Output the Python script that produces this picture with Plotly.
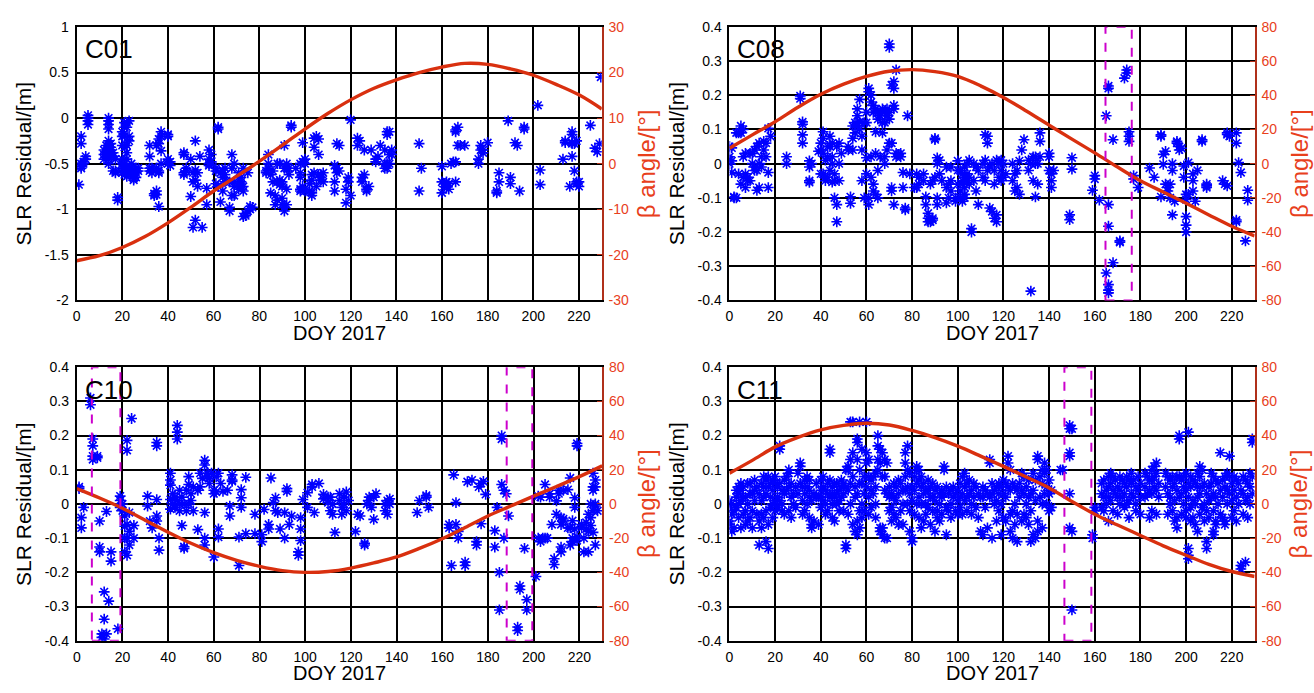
import plotly.graph_objects as go

# ---------------- data ----------------
beta_day = [0, 10, 20, 30, 40, 50, 60, 70, 80, 90, 100, 110, 120, 130, 140, 150, 160, 170, 180, 190, 200, 210, 220, 230]

c01_beta = [-21.3, -20.2, -18.4, -16.0, -13.0, -9.6, -6.0, -2.8, 0.5, 4.0, 7.6, 11.0, 14.0, 16.5, 18.4, 20.0, 21.2, 22.0, 21.8, 20.8, 19.4, 17.4, 15.1, 12.0]
c08_beta = [9.0, 16.8, 24.5, 33.0, 40.6, 46.5, 51.0, 54.0, 55.0, 53.8, 51.0, 45.5, 38.7, 30.8, 22.5, 14.3, 6.3, -2.0, -10.0, -16.6, -23.2, -30.0, -36.6, -42.3]
c10_beta = [9.0, 3.5, -2.5, -9.5, -16.5, -23.0, -28.5, -33.0, -36.5, -39.0, -40.0, -39.5, -37.5, -34.5, -31.0, -26.0, -20.3, -13.8, -7.0, -1.2, 4.6, 10.2, 16.0, 22.3]
c11_beta = [18.0, 25.5, 33.4, 39.0, 43.4, 46.0, 47.2, 46.2, 43.0, 38.8, 33.8, 28.0, 22.0, 15.8, 9.4, 1.5, -6.0, -12.3, -18.4, -24.5, -30.0, -35.3, -39.5, -42.4]

c01_day = [1, 2, 3, 4, 5, 12, 13, 14, 15, 16, 17, 18, 20, 21, 22, 23, 24, 25, 26, 27,
           32, 33, 34, 35, 36, 37, 40, 41, 47, 48, 50, 51, 52, 53, 54, 55, 57, 58, 59, 61,
           62, 63, 64, 65, 67, 68, 69, 71, 72, 73, 74, 75, 76, 77, 83, 84, 85, 86, 87, 88,
           89, 90, 91, 92, 93, 94, 96, 98, 99, 100, 102, 103, 104, 105, 106, 107, 108, 113, 114, 115,
           118, 119, 120, 123, 124, 125, 126, 127, 128, 129, 131, 132, 133, 135, 136, 137, 138, 150, 151, 160,
           161, 162, 163, 164, 165, 166, 167, 168, 170, 176, 177, 178, 180, 184, 185, 189, 190, 192, 193, 194,
           196, 202, 203, 213, 214, 216, 217, 218, 219, 220, 225, 227, 228, 229, 229.6]
c01_res = [[-0.73], [-0.2, -0.28, -0.5, -0.53, -0.55], [-0.5, -0.48], [-0.45, -0.42], [0.03, 0.0, -0.03, -0.07],
           [-0.35, -0.4, -0.45], [-0.3, -0.38, -0.42], [0.0, -0.03, -0.07, -0.12, -0.25, -0.3, -0.35, -0.45, -0.5], [-0.28, -0.32, -0.38], [-0.42, -0.38, -0.58],
           [-0.58, -0.6, -0.45], [-0.87, -0.9], [-0.15, -0.2, -0.3, -0.45, -0.5, -0.55, -0.6], [-0.05, -0.1, -0.2, -0.32, -0.5, -0.55, -0.62], [-0.05, -0.1, -0.3, -0.38, -0.45, -0.58, -0.64],
           [-0.03, -0.2, -0.25, -0.55, -0.6], [-0.5, -0.55, -0.58], [-0.62, -0.66, -0.68], [-0.55, -0.6, -0.65], [-0.55, -0.58],
           [-0.3, -0.42, -0.55, -0.58], [-0.55, -0.6], [-0.85, -0.83], [-0.84, -0.8, -0.55, -0.3], [-0.23, -0.28, -0.58, -0.6, -0.97],
           [-0.15, -0.2, -0.36, -0.5], [-0.18, -0.2, -0.45, -0.5], [-0.48, -0.52], [-0.38, -0.4, -0.6, -0.62], [-0.55, -0.58],
           [-0.86, -0.45], [-1.2, -0.7, -0.6], [-1.12, -0.25, -0.57, -0.68], [-0.75, -0.6], [-0.42],
           [-1.2], [-0.95, -0.77], [-0.35, -0.45, -0.5, -0.52], [-0.4, -0.48], [-0.55, -0.58, -0.72],
           [-0.1, -0.12, -0.75], [-0.92, -0.6], [-0.8, -0.65, -0.57], [-0.55, -0.62, -0.7], [-0.98, -1.02, -0.7],
           [-0.55, -0.4, -0.85], [-0.7, -0.75, -0.5, -0.85], [-0.72, -0.78, -0.6], [-0.7, -0.65, -0.75], [-0.75, -0.8, -0.55, -1.08],
           [-1.07, -1.05], [-1.02, -0.6], [-1.0, -0.97], [-0.98], [-0.58, -0.6],
           [-0.55, -0.5, -0.4], [-0.62, -0.82], [-0.58, -0.7], [-0.85, -0.95], [-0.5, -0.7, -0.9],
           [-0.68, -0.73, -0.5], [-0.7, -0.75, -0.88, -0.95], [-0.98, -1.02, -0.55, -0.3], [-0.5, -0.55, -0.95, -0.78], [-0.55, -0.62],
           [-0.1, -0.08], [-0.55], [-0.5, -0.6, -0.78, -0.8, -0.65], [-0.27, -0.48, -0.75], [-0.45, -0.5, -0.8],
           [-0.72, -0.8], [-0.62, -0.68, -0.82, -0.85], [-0.22, -0.32, -0.6], [-0.2, -0.75], [-0.23, -0.4, -0.62],
           [-0.62, -0.68, -0.65], [-0.6, -0.7], [-0.52, -0.7, -0.8], [-0.28, -0.55, -0.6], [-0.3, -0.58],
           [-0.78, -0.93], [-0.65, -0.7], [-0.02, -0.85], [-0.22, -0.3], [-0.25],
           [-0.65, -0.7], [-0.62, -0.35], [-0.78, -0.8], [-0.75], [-0.35],
           [-0.48, -0.45], [-0.42], [-0.3], [-0.35, -0.55, -0.5], [-0.15, -0.18, -0.5, -0.55],
           [-0.15, -0.4, -0.5], [-0.35, -0.4], [-0.28, -0.8], [-0.55], [-0.53, -0.7, -0.82],
           [-0.75, -0.72], [-0.7, -0.75], [-0.72, -0.78], [-0.5], [-0.48],
           [-0.15, -0.13, -0.48, -0.7], [-0.1, -0.3], [-0.3], [-0.3], [-0.5, -0.45],
           [-0.3, -0.35], [-0.35, -0.38], [-0.27], [-0.8, -0.82], [-0.6, -0.7],
           [-0.03], [-0.65, -0.72], [-0.27], [-0.3], [-0.8],
           [-0.1, -0.12], [0.14], [-0.57, -0.73], [-0.45], [-0.25, -0.27],
           [-0.75], [-0.42, -0.15, -0.18, -0.27, -0.28], [-0.28, -0.58], [-0.25, -0.7, -0.72], [-0.7, -0.75],
           [-0.08], [-0.33], [-0.37], [-0.28], [0.45]]

c08_day = [0, 1, 2, 3, 4, 5, 6, 7, 8, 9, 10, 11, 12, 13, 14, 15, 16, 17, 18, 25,
           31, 32, 35, 36, 39, 40, 41, 42, 43, 44, 45, 46, 47, 48, 49, 52, 53, 54, 55, 56,
           57, 58, 59, 60, 61, 62, 63, 64, 65, 66, 67, 68, 69, 70, 71, 72, 73, 74, 75, 76,
           77, 78, 79, 81, 82, 83, 85, 86, 87, 88, 89, 90, 91, 92, 93, 95, 96, 97, 99, 100,
           101, 102, 103, 104, 105, 106, 107, 108, 109, 111, 112, 113, 114, 115, 116, 117, 118, 119, 120, 121,
           124, 125, 126, 127, 128, 129, 131, 132, 133, 134, 135, 136, 140, 141, 142, 149, 150, 159, 160, 162,
           165, 166, 168, 171, 173, 174, 175, 177, 179, 184, 186, 189, 190, 191, 192, 193, 194, 195, 196, 197,
           198, 199, 200, 201, 203, 204, 205, 207, 209, 216, 217, 218, 219, 222, 223, 224, 226, 227]
c08_res = [[0.02, 0.0, 0.05, 0.01], [0.046, 0.008, -0.026], [-0.1, -0.097], [-0.1, 0.09], [0.09, -0.03],
           [0.11, 0.09, -0.06], [0.1, 0.02, -0.04], [-0.03, -0.07, 0.03], [-0.04, -0.05], [0.03, -0.05],
           [0.03, 0.0], [0.04, -0.01, -0.02], [0.05, -0.02, -0.078], [0.06, 0.0, -0.07], [0.02, -0.01],
           [0.065, 0.04], [0.06, 0.02], [0.103, -0.026, -0.07], [0.08], [0.02, 0.0],
           [0.198, 0.19], [0.122, 0.115, 0.084, 0.06], [0.008, -0.01, -0.05, -0.055], [0.0], [0.036],
           [0.04, 0.06, -0.03], [0.093, 0.074, 0.03, -0.03], [0.01, -0.04, -0.05], [0.05, 0.02, -0.04], [0.08, 0.05, -0.02],
           [0.02, 0.06, 0.0, -0.054], [-0.03, -0.1, -0.05], [-0.12, -0.17, 0.05], [0.06, -0.05, 0.0], [0.03],
           [0.04, 0.05], [-0.097, -0.116], [0.11, 0.074, 0.04], [0.09, 0.12], [0.16, 0.14, 0.11],
           [0.188, 0.122, 0.1], [0.08, 0.04, -0.05], [0.12, -0.1], [0.15, 0.12, 0.017, -0.03], [0.22, 0.21, -0.1, -0.12],
           [0.2, 0.18, 0.02, -0.04], [0.17, 0.15, -0.06, -0.08], [0.16, 0.093, 0.03, -0.09], [0.15, 0.13, -0.02, -0.1], [0.14, 0.15, 0.02],
           [0.16, 0.12, 0.09], [0.15, 0.12, 0.0, 0.02], [0.14, 0.16, 0.04], [0.34, 0.35, 0.15, 0.13, 0.06], [0.23, 0.06, -0.08, -0.07],
           [0.24, 0.22, 0.17, 0.16, -0.12], [0.274, 0.03, 0.02], [0.027], [0.03, 0.02], [-0.026, -0.07],
           [-0.135, -0.13], [0.14], [-0.03], [-0.07], [-0.03, -0.07],
           [-0.04, -0.06], [-0.03, -0.05], [-0.097, -0.12], [-0.145, -0.16, -0.17], [-0.06, -0.17],
           [-0.16, -0.165, -0.05], [0.074, 0.07, -0.04], [0.017, 0.0, -0.1, -0.12], [0.01, -0.03], [-0.05],
           [-0.01, -0.07, -0.115], [-0.06, -0.1], [-0.01, -0.05, -0.08], [-0.11, -0.1], [0.008, -0.06, -0.02],
           [-0.02, -0.08, -0.1], [-0.03, -0.06, -0.11, -0.05], [-0.01, -0.04, -0.07, -0.09, -0.1], [0.0, -0.03, -0.05], [0.01, -0.04, -0.06],
           [-0.2, -0.19], [-0.05, 0.0], [-0.01, -0.08], [-0.12, -0.02], [0.0, -0.04],
           [0.084, 0.01, -0.05], [0.08, 0.06, -0.02], [-0.13, -0.01], [-0.14, 0.0], [-0.02, -0.06, -0.16],
           [0.01, -0.15, -0.17], [-0.04, 0.0], [0.01, -0.02, -0.05], [-0.04, 0.0], [-0.03],
           [0.0, -0.05], [-0.03, -0.08], [-0.02, -0.07], [0.008, -0.09], [0.04],
           [0.07], [0.01, -0.02], [-0.373, 0.0], [0.02, -0.05], [-0.097, 0.02, 0.0],
           [0.0, -0.06], [0.09, 0.065, 0.02], [0.03, 0.02, -0.02], [-0.03, -0.05, -0.07], [-0.02],
           [-0.15, -0.164], [0.017, -0.016], [-0.078], [-0.035, -0.045], [-0.107],
           [-0.32, 0.14], [0.227, 0.22, -0.12, -0.183, -0.354, -0.378, -0.37], [-0.29, 0.07], [-0.226, -0.23], [0.25],
           [0.274, 0.265], [0.093, 0.065, 0.08], [-0.035, -0.045], [-0.07], [-0.013],
           [-0.04], [0.084, 0.08, -0.097], [0.027, -0.002], [0.036, -0.06], [-0.08, -0.07],
           [-0.1, -0.06], [-0.15, 0.0, -0.02], [-0.11], [0.065, 0.06], [0.05, 0.04],
           [0.045], [-0.007, -0.04], [-0.09, -0.105, -0.155, -0.18, -0.2], [0.003, -0.09], [-0.05, -0.08, -0.03],
           [-0.11], [-0.02], [0.07, 0.065], [-0.06, -0.065, -0.07], [-0.05],
           [-0.06], [0.09, 0.085, -0.065], [0.08], [0.09, 0.06, -0.17, -0.165], [0.003],
           [-0.026], [-0.226], [-0.078, -0.107]]

c10_day = [1, 2, 3, 6, 7, 9, 10, 11, 12, 13, 14, 15, 18, 19, 20, 21, 22, 23, 24, 25,
           31, 32, 33, 35, 36, 41, 42, 43, 44, 45, 46, 47, 48, 49, 50, 51, 53, 54, 55, 56,
           57, 58, 59, 60, 61, 62, 63, 64, 66, 67, 68, 71, 72, 74, 78, 81, 82, 84, 85, 86,
           87, 88, 89, 91, 92, 93, 94, 97, 98, 99, 101, 103, 104, 106, 108, 110, 111, 112, 113, 115,
           116, 117, 118, 119, 122, 123, 124, 126, 127, 128, 129, 130, 131, 135, 136, 137, 149, 150, 153, 154,
           163, 164, 165, 166, 167, 170, 171, 173, 175, 176, 177, 178, 179, 183, 184, 185, 186, 187, 188, 189,
           193, 194, 196, 197, 201, 202, 203, 204, 205, 206, 207, 208, 209, 210, 211, 212, 213, 215, 216, 217,
           218, 219, 221, 222, 223, 224, 225, 226, 227, 228]
c10_res = [[0.05, 0.045], [-0.04, -0.07], [-0.01], [0.31, 0.29], [0.19, 0.17, 0.14, 0.13],
           [0.14, 0.135], [-0.05, -0.126, -0.14], [-0.38, -0.39], [-0.257, -0.337, -0.395], [-0.022, -0.38],
           [-0.284], [-0.14, -0.167], [-0.365], [0.023, 0.01, -0.01], [0.0, -0.02],
           [-0.035, -0.065, -0.1, -0.14], [0.186, 0.157, -0.1, -0.15, -0.06], [-0.025, -0.12, -0.08], [0.25], [-0.063, -0.1],
           [0.023, -0.006], [-0.05], [-0.07], [0.18, 0.17, 0.013, -0.035, -0.05], [-0.1, -0.135],
           [0.09, 0.07, 0.055, 0.013, -0.015], [0.03, 0.0], [0.02, -0.01], [0.23, 0.21, 0.19, 0.01], [0.04, 0.0, -0.02],
           [-0.063, 0.02], [-0.125, -0.13, 0.0], [0.04, -0.02], [0.08, 0.057, 0.0], [0.03, 0.01],
           [0.05, -0.02], [-0.075, 0.04], [0.09, 0.05], [0.075], [0.128, 0.114, -0.025, -0.1, -0.12],
           [0.09, 0.08], [0.075, 0.06], [0.09], [-0.155, 0.04, 0.03], [0.08, 0.035],
           [0.09, -0.073, -0.097], [0.06], [0.037], [0.04], [-0.006, -0.035],
           [0.085, 0.066, 0.07], [-0.18, -0.097], [0.042, 0.018, -0.01], [0.078, -0.087], [-0.03, -0.087],
           [-0.09, -0.11], [-0.016], [-0.073, -0.06], [0.076], [0.004],
           [0.018, -0.02], [-0.025], [-0.073], [-0.1, -0.025], [0.037, 0.045],
           [-0.06], [-0.035], [-0.14, -0.15], [-0.04, -0.073, -0.107], [0.013],
           [0.033, -0.01], [0.057, 0.05], [-0.025], [0.06], [0.028, 0.015],
           [0.004, 0.02], [-0.02, 0.02], [-0.03, 0.0], [-0.083], [0.03, 0.01],
           [-0.01, -0.03], [0.0, 0.02], [0.035, -0.02], [0.01], [-0.08],
           [-0.03], [-0.035], [-0.115, -0.12], [0.0], [0.02, 0.01],
           [-0.01], [-0.045, 0.02], [0.03], [0.0, -0.02], [-0.03, 0.01],
           [0.0, 0.015], [-0.025], [0.01], [0.025, 0.02], [-0.01],
           [-0.06, -0.07], [-0.18], [0.085], [0.004, -0.06], [-0.08, -0.1],
           [-0.17, -0.18], [0.065], [0.07], [-0.11, -0.12], [0.05],
           [0.06, -0.058], [0.066], [0.028], [-0.126, -0.078], [-0.01],
           [-0.2, -0.31], [0.2, 0.19, 0.057], [0.04, -0.1], [0.03], [-0.035],
           [-0.36, -0.37], [-0.24, -0.25], [-0.13], [-0.28, -0.31], [-0.212],
           [-0.1, 0.023], [-0.11, 0.02], [-0.1], [-0.1, 0.057], [-0.1],
           [0.02, 0.03], [-0.06], [-0.16, -0.177], [0.009, -0.03], [0.03, 0.04],
           [-0.14, -0.126, -0.04, -0.06], [0.04, -0.044, -0.05], [0.042, -0.07], [-0.07, 0.076, -0.12], [-0.049, -0.1, -0.11],
           [0.018, -0.01, -0.073], [0.177, 0.17, -0.097, -0.107], [-0.06, -0.07], [-0.14, -0.1], [-0.054, -0.073],
           [-0.14, -0.08, -0.03], [0.0, -0.04, -0.063], [0.04, 0.05, 0.09, -0.083, -0.02], [0.07, 0.0, -0.006, 0.05, -0.12], [-0.02]]

c11_day = list(range(0, 142)) + [145, 146, 149, 150, 159, 160] + list(range(163, 181)) + [182, 183, 184, 185, 186, 187, 188] + list(range(191, 230))
c11_res = [
    [0.01, -0.01, -0.05, -0.06], [0.0, -0.03, -0.08], [-0.02, -0.07], [0.04, 0.02, -0.01], [0.05, 0.03, 0.0, -0.04],
    [0.06, 0.04, 0.01, -0.07], [0.05, 0.02, -0.03], [0.02, -0.02, -0.06], [0.06, 0.0, -0.05], [0.06, 0.03, -0.04],
    [0.03, -0.07, -0.02], [0.07, 0.04, 0.01], [0.05, -0.03], [-0.12, 0.03, -0.05], [0.06, 0.01, -0.03, -0.07],
    [0.08, 0.05, 0.02, -0.04], [0.07, 0.03, -0.02, -0.11], [0.08, 0.05, -0.06, -0.13], [0.06, 0.02, -0.01], [0.07, 0.04, 0.0, -0.04],
    [0.08, 0.06, 0.01, -0.02], [0.05, 0.02, -0.01], [0.17, 0.16, 0.06, 0.01], [0.04, 0.0, -0.02], [0.07, 0.03, -0.03],
    [0.08, 0.04], [0.09, 0.1, 0.05, -0.02], [0.06, 0.02, -0.04], [0.03, 0.0], [0.05, -0.01],
    [0.09, 0.03], [0.12, 0.11, 0.06], [0.05, 0.01, -0.03], [0.07, 0.03, -0.02], [0.08, 0.05, 0.0],
    [0.07, 0.04, 0.02, -0.04], [-0.06, -0.07, 0.01], [0.03, -0.05], [0.06, 0.02], [0.02, -0.06],
    [0.07, 0.04, 0.02, -0.01], [0.08, 0.05, 0.01], [0.04, 0.0, -0.03], [0.06, 0.03, -0.02], [0.15, 0.16, 0.07, 0.02],
    [0.05, 0.03, 0.0, -0.04], [0.06, 0.02, -0.05], [0.06, 0.03, 0.0], [0.04, 0.01, -0.02], [0.07, 0.05, 0.02],
    [0.06, 0.03, -0.02], [-0.12, -0.13, 0.1, 0.05], [0.11, 0.1, 0.04, -0.03], [0.24, 0.13, 0.06, 0.0], [0.24, 0.15, 0.08, -0.06],
    [0.05, 0.02, -0.08], [0.19, 0.18, 0.13, 0.03, -0.05, -0.09], [0.24, 0.1, 0.06, -0.02, -0.07], [0.16, 0.06, 0.0, -0.04], [0.08, 0.03, -0.02],
    [0.24, 0.15, 0.12, 0.05], [0.13, 0.08, 0.02, -0.03], [0.07, 0.04, -0.01], [0.08, 0.03], [0.09, 0.05, 0.0, -0.04],
    [0.2, 0.17, 0.13, 0.1], [0.16, 0.12, -0.07, -0.08], [0.15, 0.08, -0.07, -0.09], [0.13, 0.08, 0.04, -0.1], [0.12, 0.03, -0.1],
    [0.05, 0.02, -0.02], [0.03, -0.01, -0.05], [0.06, 0.02, -0.03], [0.05, 0.01, -0.04], [0.07, 0.03, -0.06],
    [0.06, -0.02], [0.04, 0.0, -0.06], [0.15, 0.12, 0.08, 0.04], [0.17, 0.1, 0.05, 0.0], [0.09, 0.03, -0.02, -0.08],
    [0.05, 0.01, -0.1, -0.11], [0.08, 0.04, -0.03], [0.11, 0.1, 0.06, 0.0], [0.1, 0.07, 0.02, -0.04], [0.08, 0.05, 0.0, -0.07],
    [0.06, 0.03, -0.05], [0.04, 0.0, -0.03], [0.07, 0.04, -0.01], [0.05, 0.02, -0.06], [0.06, 0.02, -0.02],
    [0.04, 0.01, -0.08], [0.05, -0.02, -0.04], [0.03, 0.0, -0.05], [0.04, 0.02, -0.03], [0.11, 0.1, 0.03],
    [0.05, -0.01, -0.09], [0.03, -0.02], [0.04, 0.0, -0.04], [0.02, 0.05], [0.03, -0.02],
    [0.04, 0.01, -0.03], [0.06, 0.02, -0.01], [0.08, 0.03, -0.03], [0.09, 0.05, 0.01], [0.06, 0.02, -0.02],
    [0.07, 0.03], [0.04, 0.0, -0.03], [0.06, 0.02], [0.05, -0.01], [0.03, -0.04],
    [0.02, -0.08], [0.05, 0.02, -0.09], [0.04, -0.01], [0.03, -0.07], [0.13, 0.12, 0.02],
    [0.06, 0.03, -0.1], [0.04, 0.0], [0.05, 0.01, -0.05], [0.06, 0.03, -0.02], [0.05, 0.0, -0.09],
    [0.07, 0.03, -0.04], [0.06, 0.02, -0.05], [0.14, 0.12, 0.05], [0.1, 0.04, -0.03, -0.08], [0.06, -0.02, -0.1],
    [0.05, 0.0, -0.06], [0.04, -0.03, -0.11], [0.06, 0.02], [0.09, 0.04, -0.05], [0.08, 0.03, -0.03],
    [0.05, 0.0, -0.04], [0.07, 0.02, -0.06], [0.03, -0.02, -0.11], [0.09, 0.04, -0.09], [0.07, 0.01, -0.1],
    [0.14, 0.13, -0.08, -0.05], [0.08, 0.02], [0.1, 0.06, 0.0, -0.07], [0.12, 0.09, 0.03], [0.1, 0.05, 0.0],
    [0.07, 0.03, -0.02], [0.04, -0.01],
    [0.1], [0.1], [0.23, 0.22, 0.15, 0.14, 0.03, -0.07], [0.22, -0.08, -0.31], [-0.1, -0.09], [-0.01, -0.02],
    [0.06, 0.03, -0.01], [0.07, 0.02, -0.02], [0.04, 0.0], [0.08, 0.05, 0.02, -0.05], [0.09, 0.06, 0.01],
    [0.08, 0.04, -0.02], [0.07, 0.03], [0.05, 0.02, -0.03], [0.08, 0.04, 0.0], [0.07, 0.02],
    [0.06, 0.03, -0.01], [0.08, 0.05, 0.0], [0.07, 0.01, -0.04], [0.09, 0.06, 0.03], [0.07, 0.02],
    [0.05, 0.0, -0.02], [0.08, 0.04], [0.06, 0.02, -0.03],
    [0.09, 0.05, 0.02], [0.08, 0.03], [0.07, 0.04, -0.04], [0.1, 0.07, 0.03, -0.02], [0.11, 0.08, 0.05],
    [0.12, 0.09, 0.04, -0.03], [0.06, 0.02],
    [0.09, 0.05], [0.08, 0.03, -0.03], [0.07, 0.02, 0.0], [0.08, 0.05, -0.02], [0.06, 0.01, -0.05],
    [0.08, 0.04, -0.04, -0.07], [0.2, 0.19, 0.08, 0.02], [0.07, 0.03, -0.03], [0.08, 0.05, 0.0], [0.09, 0.04, -0.02, -0.04],
    [0.21, 0.06, 0.02, -0.13, -0.15, -0.16], [0.08, 0.05, -0.01, -0.05], [0.07, 0.01, -0.04], [0.06, 0.0, -0.06], [0.09, 0.05, 0.02, -0.08],
    [0.11, 0.08, 0.03, -0.03], [0.1, 0.05, -0.01], [0.06, 0.0, -0.05], [0.03, -0.02, -0.11, -0.13], [0.05, 0.01, -0.04],
    [0.09, 0.06, 0.02], [0.08, 0.03, -0.02, -0.08, -0.09], [0.07, 0.02, -0.05, -0.06], [0.06, 0.0], [0.15, 0.04, -0.03],
    [0.07, 0.02, -0.04], [0.08, 0.05, -0.05, -0.06], [0.09, 0.04, 0.0], [0.14, 0.08, 0.03], [0.06, 0.01, -0.04],
    [0.08, 0.04, -0.02], [0.07, 0.02, -0.05], [0.06, 0.0], [-0.19, -0.18, 0.04], [0.08, 0.03, -0.03],
    [-0.17, 0.07, 0.01], [0.06, 0.02, -0.04], [0.09, 0.05, 0.0], [0.19, 0.18, 0.08, 0.03],
]

# eclipse-season windows (DOY start, DOY end)
c01_windows = []
c08_windows = [(164.7, 176.2)]
c10_windows = [(6.6, 19.1), (188.2, 199.4)]
c11_windows = [(146.7, 158.5)]

x_ticks = [0, 20, 40, 60, 80, 100, 120, 140, 160, 180, 200, 220]
c01_yticks = [-2, -1.5, -1, -0.5, 0, 0.5, 1]
c01_y2ticks = [-30, -20, -10, 0, 10, 20, 30]
res_yticks = [-0.4, -0.3, -0.2, -0.1, 0, 0.1, 0.2, 0.3, 0.4]
beta_ticks = [-80, -60, -40, -20, 0, 20, 40, 60, 80]

# ---------------- figure ----------------
W, H = 1314, 693
FONT = "Liberation Sans, Arial, sans-serif"
RED = "#D9300F"
RED_TXT = "#E8401C"
RED_AX = "#B0301A"
MAG = "#CC00CC"


def flat(days, groups):
    xs, ys = [], []
    for d, g in zip(days, groups):
        for v in g:
            xs.append(d)
            ys.append(v)
    return xs, ys


def lbl(vals):
    return ["%g" % v for v in vals]


panels = [
    dict(name="C01", day=c01_day, res=c01_res, beta=c01_beta, yr=[-2, 1], yt=c01_yticks,
         y2r=[-30, 30], y2t=c01_y2ticks, win=c01_windows, px=(72.8, 599.6), py=(19.4, 299.3)),
    dict(name="C08", day=c08_day, res=c08_res, beta=c08_beta, yr=[-0.4, 0.4], yt=res_yticks,
         y2r=[-80, 80], y2t=beta_ticks, win=c08_windows, px=(727.7, 1254.4), py=(19.3, 299.3)),
    dict(name="C10", day=c10_day, res=c10_res, beta=c10_beta, yr=[-0.4, 0.4], yt=res_yticks,
         y2r=[-80, 80], y2t=beta_ticks, win=c10_windows, px=(73.0, 600.0), py=(367.7, 647.7)),
    dict(name="C11", day=c11_day, res=c11_res, beta=c11_beta, yr=[-0.4, 0.4], yt=res_yticks,
         y2r=[-80, 80], y2t=beta_ticks, win=c11_windows, px=(727.7, 1254.4), py=(367.7, 647.7)),
]

fig = go.Figure()
layout = dict(width=W, height=H, autosize=False, margin=dict(l=0, r=0, t=0, b=0, pad=0),
              paper_bgcolor="white", plot_bgcolor="white", showlegend=False,
              font=dict(family=FONT, color="black"))
annotations = []
shapes = []

for i, p in enumerate(panels, start=1):
    xa = "x%d" % i
    ya = "y%d" % (2 * i - 1)
    yb = "y%d" % (2 * i)
    xs, ys = flat(p["day"], p["res"])
    fig.add_trace(go.Scatter(x=xs, y=ys, mode="markers", xaxis=xa, yaxis=ya,
                             marker=dict(symbol="asterisk-open", size=9, color="#0000FF",
                                         line=dict(color="#0000FF", width=1.6)),
                             hoverinfo="skip"))
    fig.add_trace(go.Scatter(x=beta_day, y=p["beta"], mode="lines", xaxis=xa, yaxis=yb,
                             line=dict(color=RED, width=3.4, shape="spline", smoothing=1.0),
                             hoverinfo="skip"))

    x0, x1 = p["px"]
    t, b = p["py"]
    xdom = [x0 / W, x1 / W]
    ydom = [1 - b / H, 1 - t / H]
    layout["xaxis%d" % i] = dict(
        domain=xdom, range=[0, 230], anchor=ya, tickvals=x_ticks, ticktext=lbl(x_ticks),
        showgrid=True, gridcolor="black", gridwidth=1.8, zeroline=False,
        showline=True, linecolor="black", linewidth=2, mirror=True, ticks="",
        ticklabelstandoff=2, tickfont=dict(size=14, color="black", family=FONT))
    layout["yaxis%d" % (2 * i - 1)] = dict(
        domain=ydom, range=p["yr"], anchor=xa, tickvals=p["yt"], ticktext=lbl(p["yt"]),
        showgrid=True, gridcolor="black", gridwidth=1.8, zeroline=False,
        showline=True, linecolor="black", linewidth=2, ticks="",
        ticklabelstandoff=3, tickfont=dict(size=14, color="black", family=FONT))
    layout["yaxis%d" % (2 * i)] = dict(
        overlaying=ya, side="right", anchor=xa, range=p["y2r"], tickvals=p["y2t"],
        ticktext=lbl(p["y2t"]), showgrid=False, zeroline=False,
        showline=True, linecolor=RED_AX, linewidth=2, ticks="inside", ticklen=5,
        tickcolor=RED_AX, tickwidth=1.2, ticklabelstandoff=2,
        tickfont=dict(size=14, color=RED_TXT, family=FONT))

    for (w0, w1) in p["win"]:
        shapes.append(dict(type="rect", xref=xa, yref=ya, x0=w0, x1=w1, y0=p["yr"][0], y1=p["yr"][1],
                           line=dict(color=MAG, width=2, dash="dash"), layer="above"))

    ymid = 1 - (t + b) / 2 / H
    annotations.append(dict(text=p["name"], xref="paper", yref="paper", x=(x0 + 6) / W,
                            y=1 - (t + 23) / H, xanchor="left", yanchor="middle", showarrow=False,
                            font=dict(size=26, color="black", family=FONT)))
    annotations.append(dict(text="SLR Residual/[m]", xref="paper", yref="paper", x=(x0 - 53) / W,
                            y=ymid, xanchor="center", yanchor="middle", textangle=-90, showarrow=False,
                            font=dict(size=21, color="black", family=FONT)))
    annotations.append(dict(text="β angle/[°]", xref="paper", yref="paper", x=(x1 + 45) / W,
                            y=ymid, xanchor="center", yanchor="middle", textangle=-90, showarrow=False,
                            font=dict(size=24, color=RED_TXT, family=FONT)))
    annotations.append(dict(text="DOY 2017", xref="paper", yref="paper", x=(x0 + x1) / 2 / W,
                            y=1 - (b + 45.5) / H, xanchor="center", yanchor="bottom", showarrow=False,
                            borderpad=0, font=dict(size=20, color="black", family=FONT)))

layout["annotations"] = annotations
layout["shapes"] = shapes
fig.update_layout(**layout)
fig.write_html("out.html")
